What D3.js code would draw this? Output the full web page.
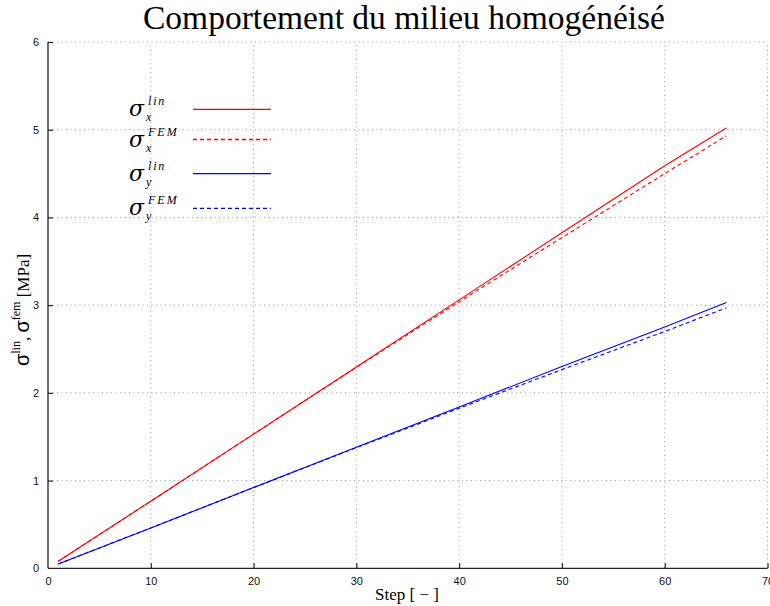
<!DOCTYPE html>
<html><head><meta charset="utf-8">
<script src="https://cdn.jsdelivr.net/npm/d3@7"></script>
<style>body{margin:0;background:#fff}svg{display:block}</style>
</head><body>
<script>
const steps = [1, 10, 20, 30, 40, 50, 60, 66];
const sigmaXLin = [0.08, 0.765, 1.53, 2.295, 3.06, 3.825, 4.59, 5.02];
const sigmaXFem = [0.08, 0.765, 1.53, 2.29, 3.04, 3.77, 4.50, 4.93];
const sigmaYLin = [0.05, 0.46, 0.92, 1.38, 1.84, 2.30, 2.75, 3.03];
const sigmaYFem = [0.05, 0.46, 0.92, 1.375, 1.825, 2.265, 2.70, 2.97];
const xTicks = [0, 10, 20, 30, 40, 50, 60, 70];
const yTicks = [0, 1, 2, 3, 4, 5, 6];
const seriesNames = [["x","lin"],["x","FEM"],["y","lin"],["y","FEM"]];
const seriesColors = ["#ff0000","#ff0000","#0000ff","#0000ff"];
const seriesDash = [null,"4,3",null,"4,3"];
const titleText = "Comportement du milieu homogénéisé";
const xLabel = "Step [ \u2212 ]";

const W = 770, H = 606;
const m = {l: 48, r: 2.5, t: 42, b: 37.7};
const svg = d3.select("body").append("svg").attr("width", W).attr("height", H);
const x = d3.scaleLinear().domain([0, 70]).range([m.l, W - m.r]);
const y = d3.scaleLinear().domain([0, 6]).range([H - m.b, m.t]);

// grid
const g = svg.append("g");
g.selectAll(".gx").data(xTicks.slice(1)).enter().append("line")
  .attr("x1", d => x(d)).attr("x2", d => x(d)).attr("y1", y(0)).attr("y2", y(6))
  .attr("stroke", "#888").attr("stroke-width", 0.9).attr("stroke-dasharray", "1,3.5");
g.selectAll(".gy").data(yTicks.slice(1)).enter().append("line")
  .attr("x1", x(0)).attr("x2", x(70)).attr("y1", d => y(d)).attr("y2", d => y(d))
  .attr("stroke", "#888").attr("stroke-width", 0.9).attr("stroke-dasharray", "1,3.5");

// axes
const xAxis = d3.axisBottom(x).tickValues(xTicks).tickSize(-5).tickPadding(9).tickFormat(d3.format("d"));
const yAxis = d3.axisLeft(y).tickValues(yTicks).tickSize(-5).tickPadding(9).tickFormat(d3.format("d"));
const gx = svg.append("g").attr("transform", `translate(0,${y(0)})`).call(xAxis);
const gy = svg.append("g").attr("transform", `translate(${x(0)},0)`).call(yAxis);
[gx, gy].forEach(a => {
  a.select(".domain").remove();
  a.selectAll(".tick line").attr("stroke", "#222").attr("stroke-width", 1.2);
  a.selectAll("text").attr("font-family", "Liberation Sans, Arial, sans-serif").attr("font-size", 11).attr("fill", "#111");
});
gy.selectAll(".tick line").filter(d => d === 0).remove();
gx.selectAll(".tick line").filter(d => d === 0).remove();
svg.append("line").attr("x1", x(0)).attr("x2", x(70)).attr("y1", y(0)).attr("y2", y(0)).attr("stroke", "#222").attr("stroke-width", 1.3);
svg.append("line").attr("x1", x(0)).attr("x2", x(0)).attr("y1", y(0)).attr("y2", y(6)).attr("stroke", "#222").attr("stroke-width", 1.3);

// lines
const allSeries = [sigmaXLin, sigmaXFem, sigmaYLin, sigmaYFem];
const line = d3.line().x(d => x(d[0])).y(d => y(d[1]));
allSeries.forEach((vals, i) => {
  svg.append("path").datum(steps.map((s, j) => [s, vals[j]]))
    .attr("d", line).attr("fill", "none").attr("stroke", seriesColors[i])
    .attr("stroke-width", 1.1).attr("stroke-dasharray", seriesDash[i]);
});

// legend
const legY = [109.3, 139.5, 173.7, 208.3];
const leg = svg.append("g");
seriesNames.forEach((n, i) => {
  const yy = legY[i];
  leg.append("line").attr("x1", 193).attr("x2", 271).attr("y1", yy).attr("y2", yy)
    .attr("stroke", seriesColors[i]).attr("stroke-width", 1.3).attr("stroke-dasharray", seriesDash[i]);
  leg.append("text").attr("x", 129).attr("y", yy + 7).attr("font-family", "DejaVu Serif, serif")
    .attr("font-style", "italic").attr("font-size", 22).text("σ");
  leg.append("text").attr("x", 148).attr("y", yy - 4).attr("font-family", "Liberation Serif, serif")
    .attr("font-style", "italic").attr("font-size", 12).attr("letter-spacing", n[1] === "FEM" ? 2 : 1.8).text(n[1]);
  leg.append("text").attr("x", 146).attr("y", yy + 12).attr("font-family", "Liberation Serif, serif")
    .attr("font-style", "italic").attr("font-size", 12).text(n[0]);
});

// title
svg.append("text").attr("x", 404).attr("y", 29).attr("text-anchor", "middle")
  .attr("font-family", "Liberation Serif, Times New Roman, serif").attr("font-size", 33.5).text(titleText);
// x label
svg.append("text").attr("x", 407).attr("y", 600).attr("text-anchor", "middle")
  .attr("font-family", "Liberation Serif, Times New Roman, serif").attr("font-size", 17).text(xLabel);
// y label
const yl = svg.append("text").attr("transform", "translate(29,310) rotate(-90)").attr("text-anchor", "middle")
  .attr("font-family", "Liberation Serif, Times New Roman, serif").attr("font-size", 17);
yl.append("tspan").attr("font-family", "Liberation Sans, Arial, sans-serif").attr("font-size", 20).text("σ");
yl.append("tspan").attr("dy", -9).attr("font-size", 12).text("lin");
yl.append("tspan").attr("dy", 9).text(", ");
yl.append("tspan").attr("font-family", "Liberation Sans, Arial, sans-serif").attr("font-size", 20).text("σ");
yl.append("tspan").attr("dy", -9).attr("font-size", 12).text("fem");
yl.append("tspan").attr("dy", 9).text("  [MPa]");
</script>
</body></html>
